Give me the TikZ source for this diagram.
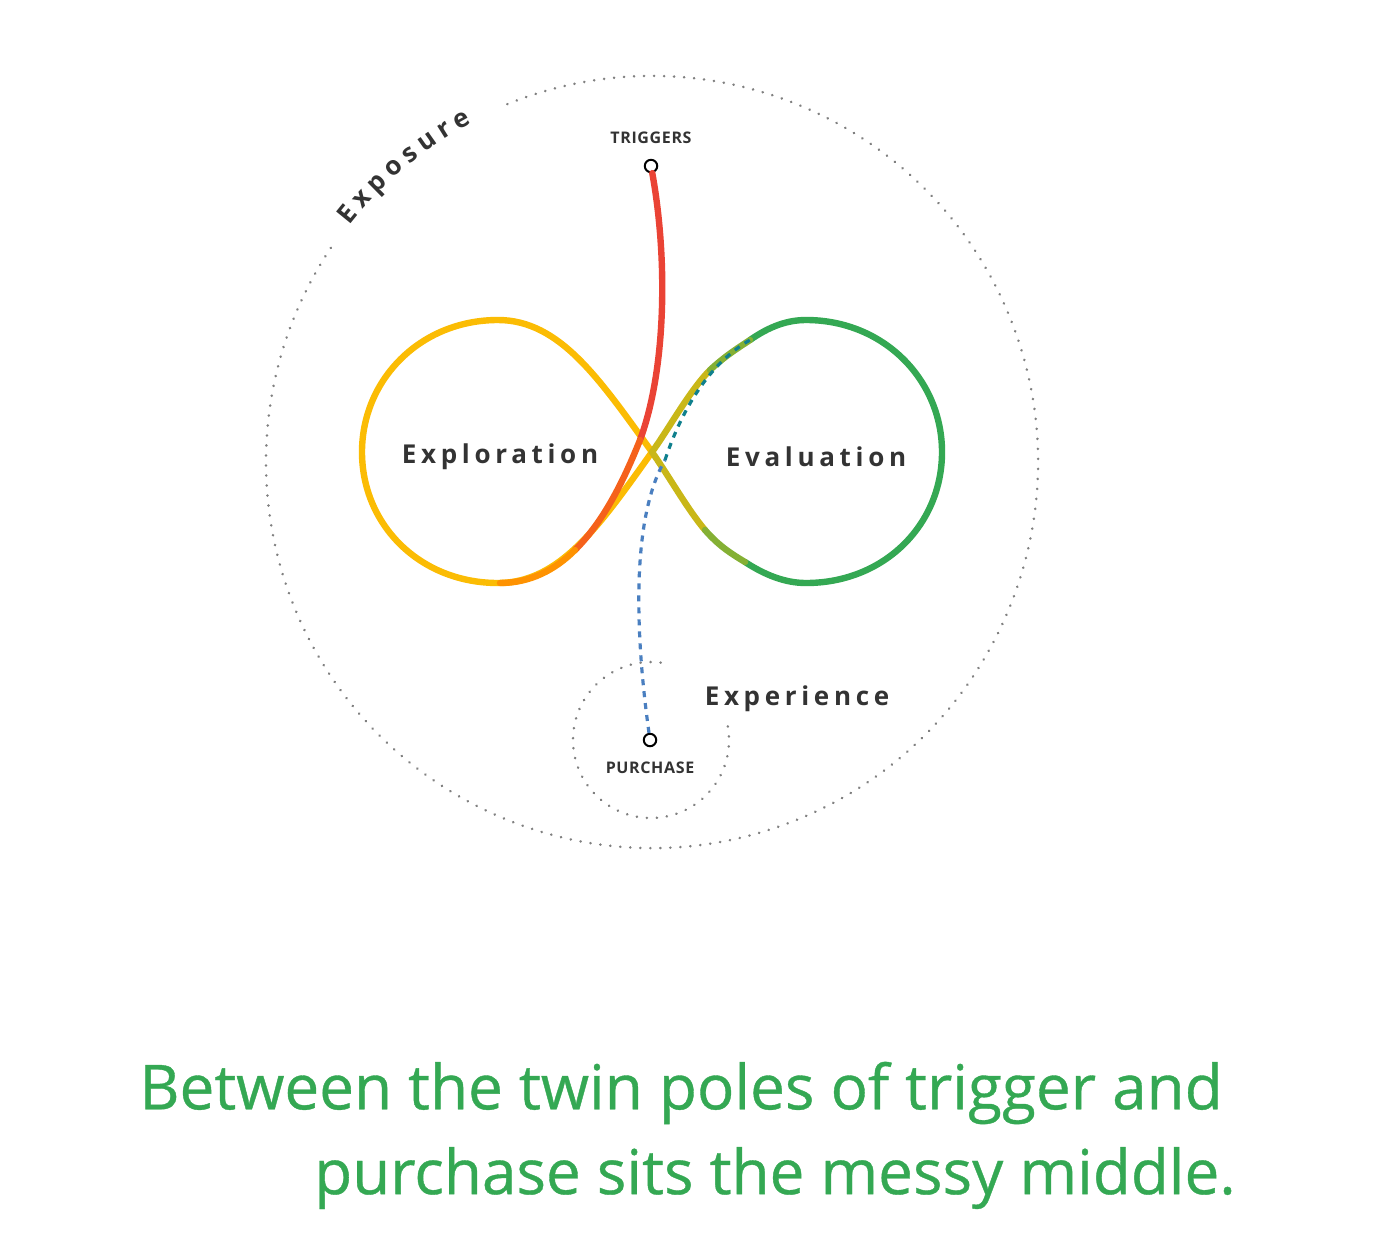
\documentclass[tikz,border=0pt]{standalone}
\usepackage{fontspec}
\setmainfont{Open Sans}
\usetikzlibrary{decorations.text}
\definecolor{gyellow}{HTML}{FBBC04}
\definecolor{ggreen}{HTML}{34A853}
\definecolor{gred}{HTML}{EA4335}
\definecolor{gblue}{HTML}{4A7FC0}
\definecolor{ink}{HTML}{333333}
\tikzset{
  ring/.style={draw=gray, line width=1.4pt, dash pattern=on 0.01pt off 5pt, line cap=round},
  loop/.style={line width=3.2pt, line cap=round},
  phase/.style={font=\fontsize{13}{15}\selectfont\addfontfeatures{LetterSpace=18}\bfseries, text=ink},
  pole/.style={font=\fontsize{8}{10}\selectfont\addfontfeatures{LetterSpace=4}\bfseries, text=ink},
  dot/.style={circle, draw=black, fill=white, line width=1pt, inner sep=2.2pt},
  caption/.style={font=\fontsize{31}{36}\selectfont\addfontfeatures{FakeBold=0.6}, text=ggreen}
}
\begin{document}
\begin{tikzpicture}[x=0.5pt, y=-0.5pt]
  \useasboundingbox (0,0) rectangle (1384,1242);
  % dotted rings
  \draw[ring] (652,462) ++(-112:386) arc[start angle=-112, end angle=214, radius=386];
  \draw[ring] (651,740) ++(-10:78) arc[start angle=-10, end angle=280, radius=78];
  \path[decorate, decoration={text along path, text align=fit to path,
      text={|\fontsize{13}{15}\selectfont\bfseries\color{ink}|Exposure}}]
    (652,462) ++(-142:384) arc[start angle=-142, end angle=-118, radius=384];
  % infinity loop
  \draw[loop, gyellow] (652,452) .. controls (600,380) and (560,320) .. (498,320)
    .. controls (420,320) and (362,380) .. (362,452)
    .. controls (362,525) and (420,583) .. (498,583)
    .. controls (560,583) and (600,525) .. (652,452);
  \draw[loop, ggreen] (750,340) .. controls (770,326) and (788,320) .. (806,320)
    .. controls (884,320) and (942,380) .. (942,452)
    .. controls (942,525) and (884,583) .. (806,583)
    .. controls (785,583) and (765,575) .. (745,562);
  \draw[loop, gyellow!75!ggreen] (652,452) .. controls (668,430) and (690,390) .. (710,370);
  \draw[loop, gyellow!40!ggreen] (710,370) .. controls (725,356) and (738,348) .. (750,340);
  \draw[loop, gyellow!75!ggreen] (652,452) .. controls (670,478) and (688,510) .. (705,530);
  \draw[loop, gyellow!40!ggreen] (705,530) .. controls (718,545) and (730,553) .. (745,562);
  % trigger path
  \node[dot] (trig) at (651,166) {};
  \node[pole, above=4pt] at (trig.north) {TRIGGERS};
  \coordinate (mid) at (640,440);
  \coordinate (base) at (500,583);
  \draw[loop, gred] (trig) .. controls (668,260) and (666,370) .. (mid);
  \draw[loop, gred!50!orange] (mid) .. controls (620,490) and (600,525) .. (575,550);
  \draw[loop, orange!70!gyellow] (575,550) .. controls (555,570) and (530,583) .. (base);
  % purchase path
  \node[dot] (buy) at (650,740) {};
  \node[pole, below=4pt] at (buy.south) {PURCHASE};
  \coordinate (turn) at (665,460);
  \draw[gblue, line width=1.6pt, dashed] (buy) .. controls (636,640) and (630,520) .. (turn);
  \draw[teal!80!gblue, line width=1.6pt, dashed] (turn) .. controls (685,400) and (715,360) .. (750,340);
  % labels
  \node[phase] at (500,457) {Exploration};
  \node[phase] at (816,457) {Evaluation};
  \node[phase] at (797,699) {Experience};
  \node[caption] at (681,1093) {Between the twin poles of trigger and};
  \node[caption] at (775,1178) {purchase sits the messy middle.};
\end{tikzpicture}
\end{document}
